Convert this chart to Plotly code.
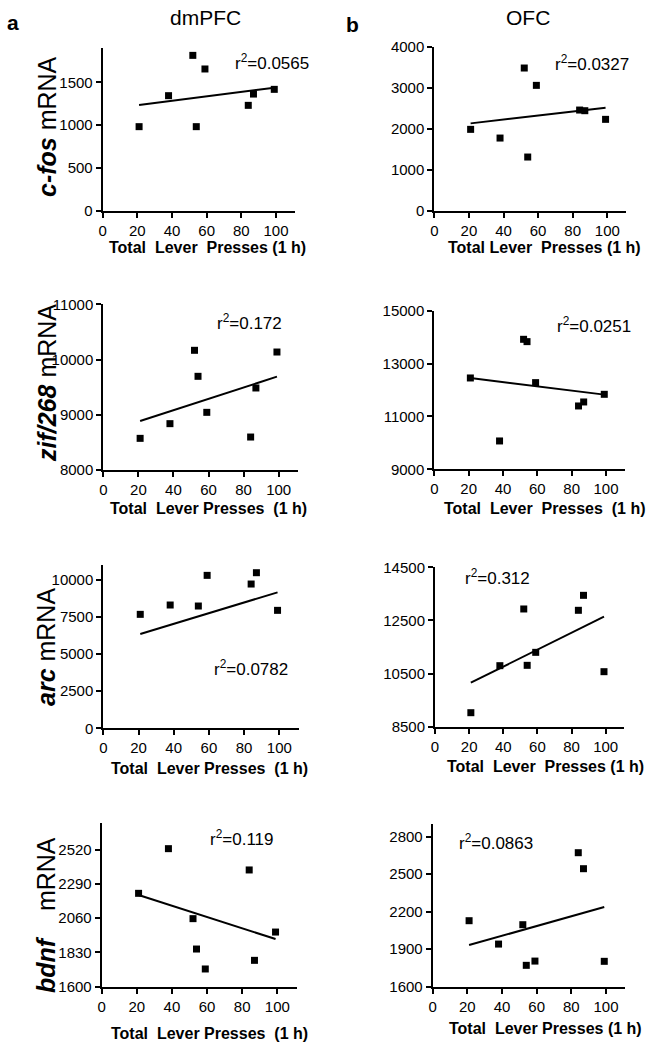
import plotly.graph_objects as go

# ---------------- data ----------------
x_presses = [21, 38, 52, 54, 59, 84, 87, 99]
x_presses_arc_dmpfc = [21, 38, 54, 59, 84, 87, 99]

cfos_dmpfc = [982, 1344, 1815, 982, 1656, 1231, 1363, 1418]
cfos_ofc = [1984, 1772, 3480, 1309, 3057, 2455, 2439, 2228]
zif_dmpfc = [8573, 8839, 10167, 9696, 9044, 8597, 9485, 10136]
zif_ofc = [12455, 10072, 13918, 13830, 12279, 11396, 11547, 11837]
arc_dmpfc = [7685, 8315, 8247, 10315, 9730, 10494, 7955]
arc_ofc = [9027, 10797, 12931, 10810, 11299, 12881, 13445, 10571]
bdnf_dmpfc = [2227, 2527, 2057, 1853, 1719, 2384, 1777, 1967]
bdnf_ofc = [2128, 1941, 2096, 1771, 1805, 2672, 2544, 1803]

# regression line values at the first and last lever-press counts
fit_x = [21, 99]
fit_cfos_dmpfc = [1235, 1437]
fit_cfos_ofc = [2130, 2512]
fit_zif_dmpfc = [8887, 9690]
fit_zif_ofc = [12455, 11825]
fit_arc_dmpfc = [6360, 9169]
fit_arc_ofc = [10157, 12642]
fit_bdnf_dmpfc = [2216, 1920]
fit_bdnf_ofc = [1933, 2237]

r2_labels = ["0.0565", "0.0327", "0.172", "0.0251", "0.0782", "0.312", "0.119", "0.0863"]

x_ticks = [0, 20, 40, 60, 80, 100]
yt_cfos_dmpfc = [0, 500, 1000, 1500]
yt_cfos_ofc = [0, 1000, 2000, 3000, 4000]
yt_zif_dmpfc = [8000, 9000, 10000, 11000]
yt_zif_ofc = [9000, 11000, 13000, 15000]
yt_arc_dmpfc = [0, 2500, 5000, 7500, 10000]
yt_arc_ofc = [8500, 10500, 12500, 14500]
yt_bdnf_dmpfc = [1600, 1830, 2060, 2290, 2520]
yt_bdnf_ofc = [1600, 1900, 2200, 2500, 2800]

x_titles = [
    "Total\u00a0\u00a0Lever\u00a0\u00a0Presses (1 h)",
    "Total Lever\u00a0\u00a0Presses (1 h)",
    "Total\u00a0\u00a0Lever Presses\u00a0\u00a0(1 h)",
    "Total\u00a0\u00a0Lever\u00a0\u00a0Presses\u00a0\u00a0(1 h)",
    "Total\u00a0\u00a0Lever Presses\u00a0\u00a0(1 h)",
    "Total\u00a0\u00a0Lever\u00a0\u00a0Presses (1 h)",
    "Total\u00a0\u00a0Lever Presses\u00a0\u00a0(1 h)",
    "Total\u00a0\u00a0Lever Presses (1 h)",
]
row_titles = [
    "<b><i>c-fos</i></b> mRNA",
    "<b><i>zif/268</i></b> mRNA",
    "<b><i>arc</i></b> mRNA",
    "<b><i>bdnf</i></b>\u00a0\u00a0\u00a0\u00a0mRNA",
]
col_titles = ["dmPFC", "OFC"]
panel_letters = ["a", "b"]

panels = [
    (x_presses, cfos_dmpfc, fit_cfos_dmpfc, yt_cfos_dmpfc),
    (x_presses, cfos_ofc, fit_cfos_ofc, yt_cfos_ofc),
    (x_presses, zif_dmpfc, fit_zif_dmpfc, yt_zif_dmpfc),
    (x_presses, zif_ofc, fit_zif_ofc, yt_zif_ofc),
    (x_presses_arc_dmpfc, arc_dmpfc, fit_arc_dmpfc, yt_arc_dmpfc),
    (x_presses, arc_ofc, fit_arc_ofc, yt_arc_ofc),
    (x_presses, bdnf_dmpfc, fit_bdnf_dmpfc, yt_bdnf_dmpfc),
    (x_presses, bdnf_ofc, fit_bdnf_ofc, yt_bdnf_ofc),
]

# ---------------- layout geometry (pixels) ----------------
W, H = 652, 1050
# x0 px, x100 px, y-axis bottom px, y-axis top px, y range
geom = [
    (102.7, 276.0, 210.7, 48.1, [0, 1900]),
    (434.3, 607.3, 210.7, 46.7, [0, 4000]),
    (103.3, 278.7, 470.0, 304.3, [8000, 11000]),
    (434.3, 606.0, 469.3, 310.7, [9000, 15000]),
    (103.3, 279.3, 728.3, 565.2, [0, 11000]),
    (435.0, 605.7, 726.7, 567.3, [8500, 14500]),
    (101.7, 277.3, 986.7, 822.9, [1600, 2700]),
    (432.7, 606.0, 986.7, 824.2, [1600, 2900]),
]
XMAX = 111
# r2 annotation (left px, center y px)
r2_pos = [(233, 62), (553, 63), (215, 322), (555, 325),
          (212, 668), (463, 577), (208, 838), (457, 842)]
# x title centers (px)
xt_pos = [(207, 248), (544, 248), (208, 508), (545, 508),
          (210, 768), (545, 766), (209, 1033), (545, 1028)]
row_title_pos = [(47, 127), (47, 383), (46, 647), (46, 915)]
col_title_pos = [(205, 18), (528, 18)]
letter_pos = [(13, 23), (352, 24)]

FONT = "Liberation Sans, Arial, sans-serif"


def px(x):
    return x / W


def py(y):
    return 1 - y / H


fig = go.Figure()
annotations = []
layout_axes = {}

for i, ((xs, ys, fy, yt), (x0, x100, yb, ytop, yr)) in enumerate(zip(panels, geom)):
    n = i + 1
    xa = "x" if n == 1 else f"x{n}"
    ya = "y" if n == 1 else f"y{n}"
    fig.add_trace(go.Scatter(
        x=xs, y=ys, mode="markers", xaxis=xa, yaxis=ya,
        marker=dict(symbol="square", size=7, color="black"),
        showlegend=False, cliponaxis=False))
    fig.add_trace(go.Scatter(
        x=fit_x, y=fy, mode="lines", xaxis=xa, yaxis=ya,
        line=dict(color="black", width=2), showlegend=False))
    x_end = x0 + (x100 - x0) * XMAX / 100.0
    common = dict(showline=True, linecolor="black", linewidth=2,
                  ticks="outside", ticklen=5, tickwidth=2, tickcolor="black",
                  showgrid=False, zeroline=False, tickformat="d",
                  tickfont=dict(family=FONT, size=15, color="black"))
    layout_axes["xaxis" if n == 1 else f"xaxis{n}"] = dict(
        domain=[px(x0), px(x_end)], anchor=ya, range=[0, XMAX],
        tickvals=x_ticks, **common)
    layout_axes["yaxis" if n == 1 else f"yaxis{n}"] = dict(
        domain=[py(yb), py(ytop)], anchor=xa, range=yr,
        tickvals=yt, **common)

    rx, ry = r2_pos[i]
    annotations.append(dict(
        x=px(rx), y=py(ry), xref="paper", yref="paper", xanchor="left",
        yanchor="middle", showarrow=False,
        text=f"r<sup>2</sup>=" + r2_labels[i],
        font=dict(family=FONT, size=17, color="black")))
    tx, ty = xt_pos[i]
    annotations.append(dict(
        x=px(tx), y=py(ty), xref="paper", yref="paper", xanchor="center",
        yanchor="middle", showarrow=False, text="<b>" + x_titles[i] + "</b>",
        font=dict(family=FONT, size=16, color="black")))

for t, (tx, ty) in zip(row_titles, row_title_pos):
    annotations.append(dict(
        x=px(tx), y=py(ty), xref="paper", yref="paper", xanchor="center",
        yanchor="middle", showarrow=False, text=t, textangle=-90,
        font=dict(family=FONT, size=25, color="black")))

for t, (tx, ty) in zip(col_titles, col_title_pos):
    annotations.append(dict(
        x=px(tx), y=py(ty), xref="paper", yref="paper", xanchor="center",
        yanchor="middle", showarrow=False, text=t,
        font=dict(family=FONT, size=21, color="black")))

for t, (tx, ty) in zip(panel_letters, letter_pos):
    annotations.append(dict(
        x=px(tx), y=py(ty), xref="paper", yref="paper", xanchor="center",
        yanchor="middle", showarrow=False, text="<b>" + t + "</b>",
        font=dict(family=FONT, size=21, color="black")))

fig.update_layout(
    width=W, height=H, margin=dict(l=0, r=0, t=0, b=0, autoexpand=False),
    paper_bgcolor="white", plot_bgcolor="white",
    annotations=annotations, **layout_axes)

fig.write_html("out.html",
               config={"displayModeBar": False},
               post_script="document.body.style.margin='0';")
